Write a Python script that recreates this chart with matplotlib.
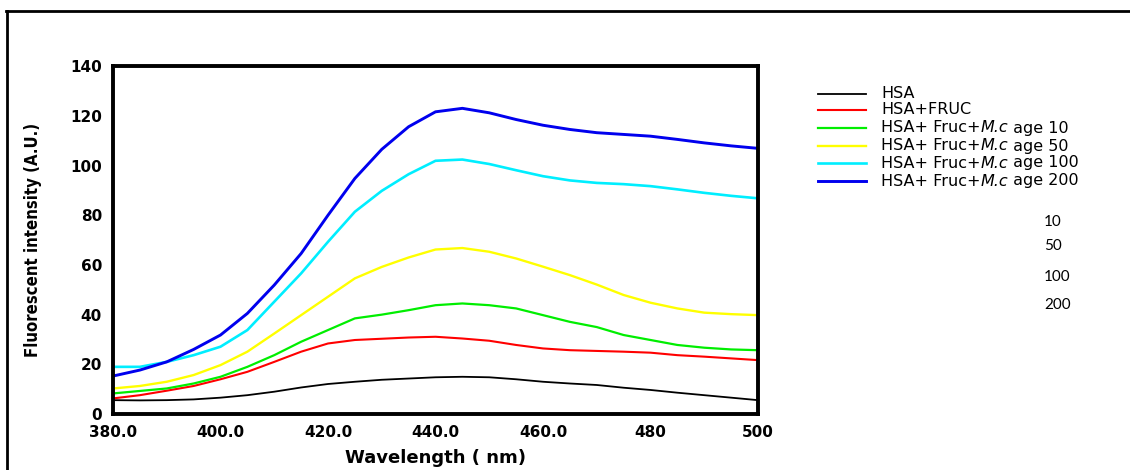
import matplotlib
matplotlib.use('Agg')
import matplotlib.pyplot as plt
from matplotlib.lines import Line2D

# wavelength (nm), read every 5 nm off the picture
wavelength = [380, 385, 390, 395, 400, 405, 410, 415, 420, 425, 430, 435, 440,
              445, 450, 455, 460, 465, 470, 475, 480, 485, 490, 495, 500]

hsa = [5.6, 5.5, 5.6, 5.9, 6.6, 7.6, 9.0, 10.7, 12.1, 13.0, 13.8, 14.3, 14.8,
       15.0, 14.8, 14.0, 13.0, 12.3, 11.7, 10.6, 9.7, 8.6, 7.6, 6.6, 5.6]
hsa_fruc = [6.3, 7.6, 9.4, 11.3, 14.0, 17.0, 21.0, 25.1, 28.4, 29.8, 30.3, 30.8, 31.1,
            30.4, 29.5, 27.8, 26.4, 25.7, 25.4, 25.1, 24.7, 23.7, 23.1, 22.4, 21.7]
age_10 = [8.3, 9.3, 10.3, 12.3, 15.0, 19.0, 23.7, 29.1, 33.8, 38.5, 40.0, 41.8, 43.8,
          44.5, 43.8, 42.5, 39.8, 37.1, 35.0, 31.8, 29.8, 27.8, 26.7, 26.0, 25.7]
age_50 = [10.3, 11.3, 13.0, 15.7, 19.7, 25.1, 32.4, 39.8, 47.2, 54.6, 59.2, 63.0, 66.2,
          66.8, 65.3, 62.6, 59.3, 55.9, 52.1, 47.9, 44.8, 42.5, 40.8, 40.2, 39.8]
age_100 = [19.0, 19.0, 21.0, 23.7, 27.1, 33.8, 45.2, 56.6, 69.3, 81.4, 89.8, 96.5, 101.9,
           102.4, 100.6, 98.1, 95.7, 94.0, 93.0, 92.5, 91.7, 90.4, 89.0, 87.8, 86.8]
age_200 = [15.3, 17.7, 21.0, 26.0, 31.8, 40.5, 51.9, 64.6, 80.0, 94.8, 106.5, 115.6, 121.6,
           123.0, 121.2, 118.5, 116.2, 114.5, 113.2, 112.5, 111.8, 110.5, 109.1, 107.9, 106.9]

series = [hsa, hsa_fruc, age_10, age_50, age_100, age_200]
# legend labels split as (before, italic, after)
labels = [('HSA', '', ''),
          ('HSA+FRUC', '', ''),
          ('HSA+ Fruc+', 'M.c', ' age 10'),
          ('HSA+ Fruc+', 'M.c', ' age 50'),
          ('HSA+ Fruc+', 'M.c', ' age 100'),
          ('HSA+ Fruc+', 'M.c', ' age 200')]
colors = ['#000000', '#ff0000', '#00ee00', '#ffff00', '#00eeff', '#0000ee']
widths = [1.3, 1.5, 1.6, 1.7, 1.9, 2.1]

x_ticks = [380, 400, 420, 440, 460, 480, 500]
x_ticklabels = ['380.0', '400.0', '420.0', '440.0', '460.0', '480', '500']
y_ticks = [0, 20, 40, 60, 80, 100, 120, 140]
side_notes = ['10', '50', '100', '200']

fig = plt.figure(figsize=(11.3, 4.7), dpi=100)
ax = fig.add_axes([0.1, 0.119, 0.5708, 0.7404])

for y, c, lw in zip(series, colors, widths):
    ax.plot(wavelength, y, color=c, lw=lw, solid_joinstyle='round')

ax.set_xlim(380, 500)
ax.set_ylim(0, 140)
ax.set_xticks(x_ticks)
ax.set_xticklabels(x_ticklabels)
ax.set_yticks(y_ticks)
ax.tick_params(axis='x', length=0, pad=8)
ax.tick_params(axis='y', length=0, pad=8)
for lab in ax.get_xticklabels() + ax.get_yticklabels():
    lab.set_fontweight('bold')
    lab.set_fontsize(11)
for sp in ax.spines.values():
    sp.set_linewidth(2.8)

ax.set_xlabel('Wavelength ( nm)', fontsize=13, fontweight='bold', labelpad=6)
ax.set_ylabel('Fluorescent intensity (A.U.)', fontsize=12, fontweight='bold',
              fontstretch='condensed', labelpad=20)

# legend drawn by hand so the italic part can sit inside the label
row_y = [94, 110, 128, 146, 163, 181]
H, W = 470.0, 1130.0
for (a, b, c), col, lw, ry in zip(labels, colors, widths, row_y):
    yf = 1 - ry / H
    fig.add_artist(Line2D([818 / W, 866 / W], [yf, yf], transform=fig.transFigure,
                          color=col, lw=lw))
    t = fig.text(881 / W, yf, a, fontsize=11.5, va='center', ha='left')
    if b:
        t2 = ax.annotate(b, xy=(1, 0), xycoords=t, va='bottom', ha='left',
                         fontsize=11.5, fontstyle='italic', annotation_clip=False)
        ax.annotate(c, xy=(1, 0), xycoords=t2, va='bottom', ha='left',
                    fontsize=11.5, annotation_clip=False)

note_y = [0.527, 0.476, 0.41, 0.352]
for t, yy in zip(side_notes, note_y):
    fig.text(0.924, yy, t, fontsize=11, family='Lato', va='center', ha='left')

# outer frame (left and top only)
fig.add_artist(Line2D([0.006, 0.006], [0.0, 0.977], transform=fig.transFigure, color='black', lw=2))
fig.add_artist(Line2D([0.005, 1.0], [0.977, 0.977], transform=fig.transFigure, color='black', lw=2))

plt.savefig('out.png', dpi=100)
plt.close()
